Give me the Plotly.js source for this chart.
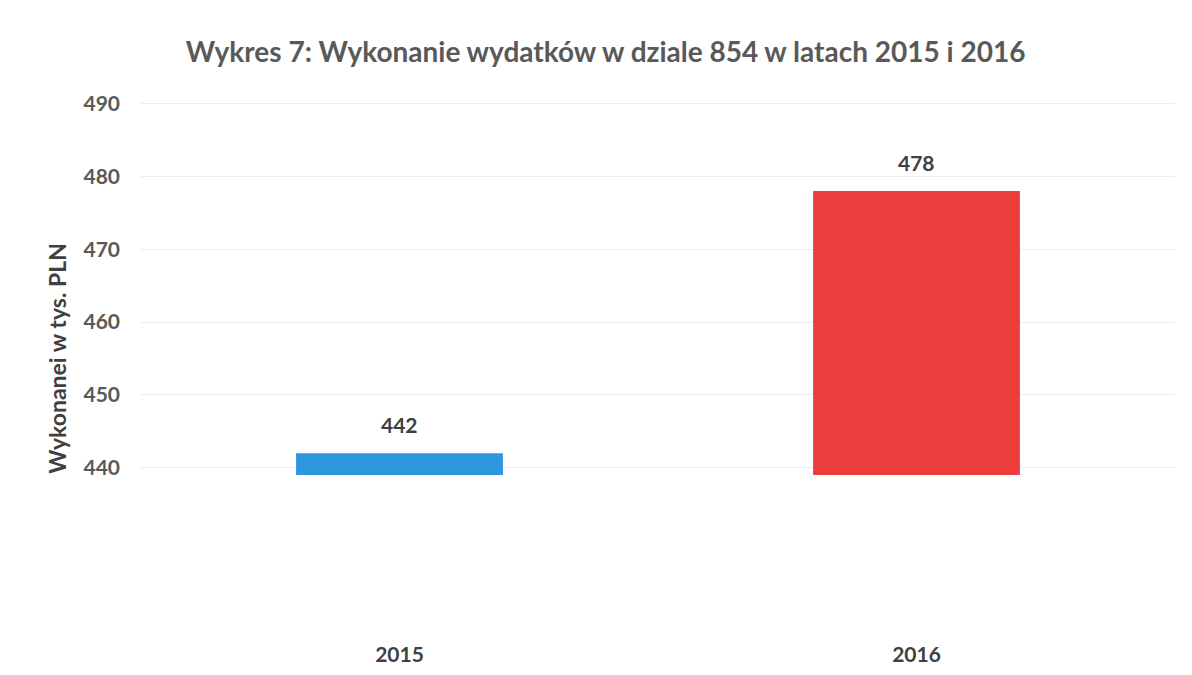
<!DOCTYPE html>
<html>
<head>
<meta charset="utf-8">
<script src="https://cdn.plot.ly/plotly-3.0.1.min.js"></script>
<style>html,body{margin:0;padding:0;background:#fff;}#chart{width:1192px;height:675px;}</style>
</head>
<body>
<div id="chart"></div>
<script>
const years = ["2015", "2016"];
const values = [442, 478];
const barColors = ["#2A97DF", "#EC3D3D"];
const yTicks = [440, 450, 460, 470, 480, 490];

const grey = "#595959";
const font = "Lato, 'Open Sans', sans-serif";
const barBase = 439;

const trace = {
  type: "bar",
  x: years,
  y: values.map(v => v - barBase),
  base: barBase,
  width: 0.4,
  marker: {color: barColors},
  hoverinfo: "skip"
};

const annotations = years.map((yr, i) => ({
  x: i, y: values[i], text: "<b>" + values[i] + "</b>",
  xref: "x", yref: "y",
  showarrow: false, yanchor: "bottom", yshift: 14,
  font: {family: font, size: 21, color: "#404040"}
}));

const layout = {
  width: 1192, height: 675,
  margin: {l: 141, r: 17, t: 89, b: 47},
  paper_bgcolor: "#fff", plot_bgcolor: "#fff",
  showlegend: false,
  title: {
    text: "<b>Wykres 7: Wykonanie wydatków w dziale 854 w latach 2015 i 2016</b>",
    x: 0.508, xanchor: "center", y: 0.922, yanchor: "middle",
    font: {family: font, size: 28, color: grey}
  },
  xaxis: {
    type: "category",
    range: [-0.5, 1.5],
    autorange: false,
    showgrid: false, zeroline: false, showline: false,
    ticks: "", ticklabelstandoff: 12,
    tickfont: {family: font, size: 21, color: "#404040", weight: "bold"}
  },
  yaxis: {
    range: [418, 492],
    autorange: false,
    tickvals: yTicks,
    ticktext: yTicks.map(String),
    showgrid: true, gridcolor: "#ececec", gridwidth: 1,
    zeroline: false, showline: false,
    ticks: "", ticklabelstandoff: 20,
    tickfont: {family: font, size: 21, color: grey, weight: "bold"},
    title: {
      text: "<b>Wykonanei w tys. PLN</b>",
      standoff: 10,
      font: {family: font, size: 23, color: "#404040"}
    }
  },
  annotations: annotations
};

Plotly.newPlot("chart", [trace], layout, {displayModeBar: false, staticPlot: true});
</script>
</body>
</html>
